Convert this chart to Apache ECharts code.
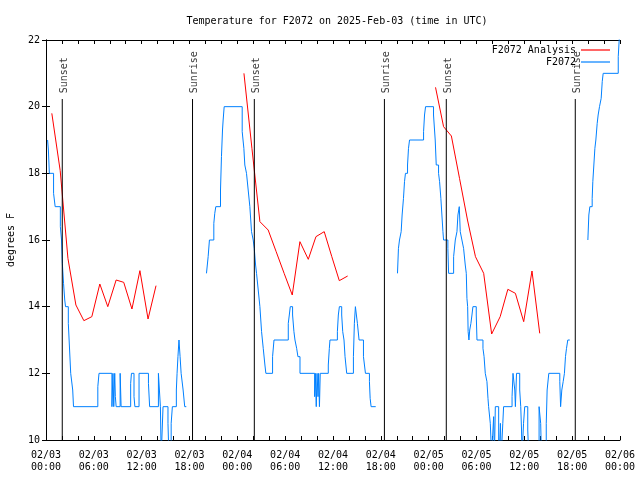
<!DOCTYPE html>
<html><head><meta charset="utf-8">
<script src="https://cdn.jsdelivr.net/npm/echarts@6/dist/echarts.min.js"></script>
<style>html,body{margin:0;padding:0;background:#fff}#c{width:640px;height:480px}</style>
</head><body><div id="c"></div>
<script>
// hours since 2025-02-03 00:00 UTC
const titleText = 'Temperature for F2072 on 2025-Feb-03 (time in UTC)';
const yAxisName = 'degrees F';
const analysisName = 'F2072 Analysis';
const obsName = 'F2072';

const analysis1 = [[0.73,19.8],[1.78,18.08],[2.75,15.45],[3.75,14.05],[4.75,13.58],[5.75,13.7],[6.75,14.68],[7.75,14.0],[8.8,14.8],[9.75,14.73],[10.78,13.93],[11.78,15.08],[12.8,13.63],[13.8,14.63]];
const analysis2 = [[24.83,21.0],[25.83,18.75],[26.83,16.55],[27.87,16.3],[28.87,15.65],[29.87,15.0],[30.89,14.35],[31.85,15.95],[32.9,15.42],[33.86,16.1],[34.9,16.25],[35.85,15.5],[36.79,14.78],[37.84,14.92]];
const analysis3 = [[48.86,20.58],[49.87,19.4],[50.85,19.12],[51.87,17.85],[52.87,16.6],[53.87,15.5],[54.9,15.0],[55.9,13.18],[56.97,13.7],[57.93,14.52],[58.88,14.4],[59.92,13.55],[60.96,15.07],[61.93,13.2]];

const obs1 = [[0.2,19],[0.3,18.7],[0.42,18],[0.95,17.4],[1.15,17],[1.8,16.4],[1.95,16],[2.05,15.3],[2.2,14.7],[2.35,14.2],[2.45,14],[2.8,13.5],[2.9,13],[3.1,12],[3.35,11.5],[3.45,11],[6.5,11.6],[6.65,12],[8.27,11],[8.4,12],[8.5,11],[8.62,12],[8.7,11.3],[8.8,11],[9.3,12],[9.42,11],[10.62,11.7],[10.72,12],[11.04,11.3],[11.15,11],[11.67,12],[12.85,11.7],[13.0,11],[14.1,12],[14.35,11],[14.45,9.5],[14.68,11],[15.3,10.5],[15.42,9.5],[15.7,10.5],[15.85,11],[16.35,11.5],[16.44,12],[16.55,12.5],[16.68,13],[16.82,12.5],[16.95,12],[17.2,11.5],[17.4,11],[17.6,11]];
const obs2 = [[20.13,15],[20.34,15.5],[20.5,16],[21.05,16.5],[21.17,16.8],[21.3,17],[21.89,17.5],[22.01,18.5],[22.14,19.3],[22.22,19.6],[22.35,20],[24.61,19.25],[24.82,18.75],[24.94,18.25],[25.15,18],[25.36,17.5],[25.57,17],[25.78,16.25],[25.99,16],[26.12,15.75],[26.29,15.25],[26.41,15],[26.62,14.5],[26.83,14],[27.04,13.25],[27.25,12.75],[27.46,12.25],[27.58,12],[28.42,12.5],[28.6,13],[30.39,13.5],[30.52,13.75],[30.64,14],[30.93,13.75],[31.1,13.25],[31.23,13],[31.44,12.75],[31.6,12.5],[31.86,12],[33.7,11.3],[33.78,12],[33.9,11],[34.0,12],[34.12,11.3],[34.2,12],[34.3,11],[34.4,12],[35.41,12.25],[35.54,12.75],[35.62,13],[36.55,13.25],[36.67,13.75],[36.8,14],[37.09,13.75],[37.22,13.25],[37.38,13],[37.51,12.5],[37.72,12],[38.56,12.5],[38.68,13.5],[38.81,14],[39.06,13.5],[39.27,13],[39.82,12.5],[40.07,12],[40.57,11.75],[40.66,11.25],[40.78,11],[41.36,11]];
const obs3 = [[44.09,15],[44.21,15.75],[44.34,16],[44.55,16.25],[44.67,16.75],[44.84,17.25],[44.97,17.75],[45.09,18],[45.35,18.25],[45.47,18.75],[45.6,19],[47.36,19.25],[47.48,19.75],[47.61,20],[48.61,19.75],[48.82,19],[48.95,18.25],[49.24,18],[49.37,17.75],[49.53,17.25],[49.66,16.75],[49.79,16.25],[49.87,16],[50.41,15.75],[50.5,15],[51.13,15.5],[51.34,16],[51.55,16.25],[51.67,16.75],[51.84,17],[51.96,16.25],[52.17,16],[52.38,15.75],[52.59,15.25],[52.72,15],[52.8,14.25],[52.89,14],[52.95,13.25],[53.05,13],[53.15,13.3],[53.3,13.5],[53.43,13.75],[53.55,14],[53.97,13.75],[54.06,13],[54.81,12.75],[54.95,12.5],[55.1,12],[55.31,11.75],[55.44,11.25],[55.52,11],[55.73,10.5],[55.9,9.5],[56.15,10.7],[56.25,9.5],[56.36,11],[56.78,10],[56.85,9.5],[57.0,10.5],[57.1,9.5],[57.3,10.5],[57.4,11],[58.46,11.3],[58.58,12],[58.8,11.5],[58.88,11],[59.02,12],[59.42,11.5],[59.55,11],[59.65,10.3],[59.71,9.5],[59.9,10.5],[60.05,11],[60.43,10.3],[60.55,9.5],[61.85,11],[62.05,10.5],[62.15,9.5],[62.75,10.5],[62.86,11.5],[63.07,12],[64.45,11.75],[64.55,11],[64.7,11.5],[64.87,11.75],[65.03,12],[65.16,12.5],[65.29,12.75],[65.45,13],[65.7,13]];
const obs4 = [[67.97,16],[68.09,16.75],[68.22,17],[68.51,17.25],[68.59,17.75],[68.72,18.25],[68.85,18.75],[68.97,19],[69.14,19.5],[69.26,19.75],[69.43,20],[69.64,20.25],[69.77,20.75],[69.89,21],[71.78,21.5],[71.9,22],[72,22.5]];

const sunNames = ['Sunset','Sunrise','Sunset','Sunrise','Sunset','Sunrise'];
const sunHours = [2.04, 18.38, 26.13, 42.45, 50.21, 66.39];
const sunLineTop = 20.23;
const sunLabelAt = 20.4;

const xMin = 0, xMax = 72, xStep = 6;
const yMin = 10, yMax = 22, yStep = 2;

const FONT = 'DejaVu Sans Mono';
const RED = '#ff0000', BLUE = '#0080ff';

function xLabel(h) {
  const day = 3 + Math.floor(h / 24);
  const hr = h % 24;
  return '02/0' + day + '\n' + (hr < 10 ? '0' : '') + hr + ':00';
}

const series = [];
[analysis1, analysis2, analysis3].forEach(d => series.push({
  name: analysisName, type: 'line', data: d, symbol: 'none', color: RED,
  lineStyle: {color: RED, width: 1}, z: 3, silent: true
}));
[obs1, obs2, obs3, obs4].forEach(d => series.push({
  name: obsName, type: 'line', step: 'end', data: d, symbol: 'none', color: BLUE,
  lineStyle: {color: BLUE, width: 1}, z: 4, silent: true
}));
sunHours.forEach((h, i) => {
  series.push({
    type: 'line', data: [[h, yMin], [h, sunLineTop]], symbol: 'none',
    lineStyle: {color: '#000', width: 1}, z: 5, silent: true
  });
});
series.push({
  type: 'scatter', symbolSize: 1, itemStyle: {color: 'rgba(0,0,0,0)'}, z: 6, silent: true,
  data: sunHours.map((h, i) => ({name: sunNames[i], value: [h, sunLabelAt]})),
  label: {show: true, position: 'inside', rotate: 90, align: 'left', verticalAlign: 'middle', offset: [0, 2],
    formatter: '{b}', fontFamily: FONT, fontSize: 10, color: '#000'}
});

const axisCommonX = {
  type: 'value', min: xMin, max: xMax, interval: xStep,
  axisLine: {show: true, lineStyle: {color: '#000', width: 1}},
  axisTick: {show: true, inside: true, length: 4, lineStyle: {color: '#000'}},
  minorTick: {show: true, splitNumber: 3, length: 4, lineStyle: {color: '#000'}},
  splitLine: {show: false}
};
const axisCommonY = {
  type: 'value', min: yMin, max: yMax, interval: yStep,
  axisLine: {show: true, lineStyle: {color: '#000', width: 1}},
  axisTick: {show: true, inside: true, length: 4, lineStyle: {color: '#000'}},
  splitLine: {show: false}
};

const chart = echarts.init(document.getElementById('c'), null, {renderer: 'canvas'});
chart.setOption({
  animation: false,
  backgroundColor: '#fff',
  title: {text: titleText, left: 332, top: 11, textAlign: 'center',
    textStyle: {fontFamily: FONT, fontSize: 10, fontWeight: 'normal', color: '#000'}},
  legend: [
    {data: [analysisName], right: 30, top: 45, padding: 0, align: 'right', icon: 'rect', itemWidth: 29, itemHeight: 1.2,
      textStyle: {fontFamily: FONT, fontSize: 10, color: '#000'}, selectedMode: false},
    {data: [obsName], right: 30, top: 57, padding: 0, align: 'right', icon: 'rect', itemWidth: 29, itemHeight: 1.2,
      textStyle: {fontFamily: FONT, fontSize: 10, color: '#000'}, selectedMode: false}
  ],
  grid: {left: 46, right: 20, top: 40, bottom: 40, containLabel: false, outerBoundsMode: 'none'},
  xAxis: [
    Object.assign({}, axisCommonX, {position: 'bottom',
      axisLabel: {formatter: xLabel, fontFamily: FONT, fontSize: 10, color: '#000', margin: 9, lineHeight: 12}}),
    Object.assign({}, axisCommonX, {position: 'top', axisLabel: {show: false}})
  ],
  yAxis: [
    Object.assign({}, axisCommonY, {position: 'left', name: yAxisName, nameLocation: 'middle', nameGap: 30, nameRotate: 90,
      nameTextStyle: {fontFamily: FONT, fontSize: 10, color: '#000'},
      axisLabel: {fontFamily: FONT, fontSize: 10, color: '#000', margin: 6}}),
    Object.assign({}, axisCommonY, {position: 'right', axisLabel: {show: false}})
  ],
  series: series
});
</script>
</body></html>
